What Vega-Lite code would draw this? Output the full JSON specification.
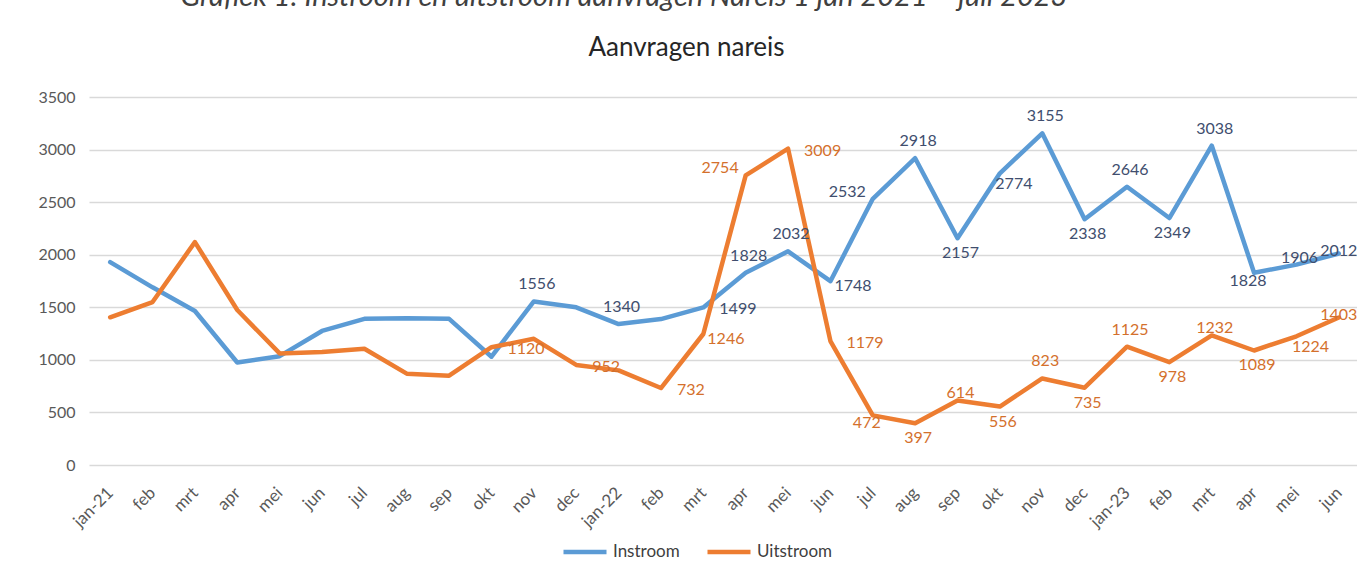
{
  "$schema": "https://vega.github.io/schema/vega-lite/v6.json",
  "background": "white",
  "padding": {"left": 37, "top": -17, "right": 0, "bottom": 0},
  "config": {"font": "Lato", "view": {"stroke": null}},
  "title": {"text": "Grafiek 1: Instroom en uitstroom aanvragen Nareis 1 jan 2021 – juli 2023", "font": "Lato", "fontStyle": "italic", "fontWeight": "normal", "fontSize": 29, "color": "#404040", "anchor": "middle", "baseline": "alphabetic", "dx": -75, "offset": 0},
  "data": {"values": [
    {"maand": "jan-21", "serie": "Instroom", "waarde": 1930},
    {"maand": "feb-21", "serie": "Instroom", "waarde": 1690},
    {"maand": "mrt-21", "serie": "Instroom", "waarde": 1465},
    {"maand": "apr-21", "serie": "Instroom", "waarde": 975},
    {"maand": "mei-21", "serie": "Instroom", "waarde": 1035},
    {"maand": "jun-21", "serie": "Instroom", "waarde": 1275},
    {"maand": "jul-21", "serie": "Instroom", "waarde": 1390},
    {"maand": "aug-21", "serie": "Instroom", "waarde": 1395},
    {"maand": "sep-21", "serie": "Instroom", "waarde": 1390},
    {"maand": "okt-21", "serie": "Instroom", "waarde": 1030},
    {"maand": "nov-21", "serie": "Instroom", "waarde": 1556},
    {"maand": "dec-21", "serie": "Instroom", "waarde": 1500},
    {"maand": "jan-22", "serie": "Instroom", "waarde": 1340},
    {"maand": "feb-22", "serie": "Instroom", "waarde": 1388},
    {"maand": "mrt-22", "serie": "Instroom", "waarde": 1499},
    {"maand": "apr-22", "serie": "Instroom", "waarde": 1828},
    {"maand": "mei-22", "serie": "Instroom", "waarde": 2032},
    {"maand": "jun-22", "serie": "Instroom", "waarde": 1748},
    {"maand": "jul-22", "serie": "Instroom", "waarde": 2532},
    {"maand": "aug-22", "serie": "Instroom", "waarde": 2918},
    {"maand": "sep-22", "serie": "Instroom", "waarde": 2157},
    {"maand": "okt-22", "serie": "Instroom", "waarde": 2774},
    {"maand": "nov-22", "serie": "Instroom", "waarde": 3155},
    {"maand": "dec-22", "serie": "Instroom", "waarde": 2338},
    {"maand": "jan-23", "serie": "Instroom", "waarde": 2646},
    {"maand": "feb-23", "serie": "Instroom", "waarde": 2349},
    {"maand": "mrt-23", "serie": "Instroom", "waarde": 3038},
    {"maand": "apr-23", "serie": "Instroom", "waarde": 1828},
    {"maand": "mei-23", "serie": "Instroom", "waarde": 1906},
    {"maand": "jun-23", "serie": "Instroom", "waarde": 2012},
    {"maand": "jan-21", "serie": "Uitstroom", "waarde": 1405},
    {"maand": "feb-21", "serie": "Uitstroom", "waarde": 1550},
    {"maand": "mrt-21", "serie": "Uitstroom", "waarde": 2120},
    {"maand": "apr-21", "serie": "Uitstroom", "waarde": 1474},
    {"maand": "mei-21", "serie": "Uitstroom", "waarde": 1061},
    {"maand": "jun-21", "serie": "Uitstroom", "waarde": 1075},
    {"maand": "jul-21", "serie": "Uitstroom", "waarde": 1106},
    {"maand": "aug-21", "serie": "Uitstroom", "waarde": 869},
    {"maand": "sep-21", "serie": "Uitstroom", "waarde": 849},
    {"maand": "okt-21", "serie": "Uitstroom", "waarde": 1120},
    {"maand": "nov-21", "serie": "Uitstroom", "waarde": 1200},
    {"maand": "dec-21", "serie": "Uitstroom", "waarde": 952},
    {"maand": "jan-22", "serie": "Uitstroom", "waarde": 900},
    {"maand": "feb-22", "serie": "Uitstroom", "waarde": 732},
    {"maand": "mrt-22", "serie": "Uitstroom", "waarde": 1246},
    {"maand": "apr-22", "serie": "Uitstroom", "waarde": 2754},
    {"maand": "mei-22", "serie": "Uitstroom", "waarde": 3009},
    {"maand": "jun-22", "serie": "Uitstroom", "waarde": 1179},
    {"maand": "jul-22", "serie": "Uitstroom", "waarde": 472},
    {"maand": "aug-22", "serie": "Uitstroom", "waarde": 397},
    {"maand": "sep-22", "serie": "Uitstroom", "waarde": 614},
    {"maand": "okt-22", "serie": "Uitstroom", "waarde": 556},
    {"maand": "nov-22", "serie": "Uitstroom", "waarde": 823},
    {"maand": "dec-22", "serie": "Uitstroom", "waarde": 735},
    {"maand": "jan-23", "serie": "Uitstroom", "waarde": 1125},
    {"maand": "feb-23", "serie": "Uitstroom", "waarde": 978},
    {"maand": "mrt-23", "serie": "Uitstroom", "waarde": 1232},
    {"maand": "apr-23", "serie": "Uitstroom", "waarde": 1089},
    {"maand": "mei-23", "serie": "Uitstroom", "waarde": 1224},
    {"maand": "jun-23", "serie": "Uitstroom", "waarde": 1403}
  ]},
  "vconcat": [
    {
      "width": 1271,
      "height": 368,
      "title": {"text": "Aanvragen nareis", "fontSize": 26, "fontWeight": "normal", "color": "#262626", "anchor": "middle", "baseline": "alphabetic", "dx": -38, "offset": 7},
      "transform": [{"calculate": "datum.serie + ' ' + datum.maand", "as": "sleutel"}],
      "encoding": {
        "x": {"field": "maand", "type": "ordinal", "sort": null, "scale": {"type": "point", "padding": 0.5},
          "axis": {"title": null, "domain": false, "ticks": false, "grid": false, "labelAngle": -45, "labelAlign": "right", "labelBaseline": "middle", "labelPadding": 25, "labelFontSize": 17, "labelColor": "#595959",
            "labelExpr": "substring(datum.value, 0, 3) == 'jan' ? datum.value : substring(datum.value, 0, 3)"}},
        "y": {"field": "waarde", "type": "quantitative", "scale": {"domain": [0, 3500], "nice": false},
          "axis": {"title": null, "values": [0, 500, 1000, 1500, 2000, 2500, 3000, 3500], "format": "d", "domain": false, "ticks": false, "gridColor": "#D9D9D9", "gridWidth": 1.5, "labelPadding": 14, "labelFontSize": 16, "labelColor": "#595959"}}
      },
      "layer": [
        {
          "mark": {"type": "line", "strokeWidth": 4.5, "strokeJoin": "round", "strokeCap": "round"},
          "encoding": {
            "color": {"field": "serie", "type": "nominal", "scale": {"domain": ["Instroom", "Uitstroom"], "range": ["#5B9BD5", "#ED7D31"]},
              "legend": {"title": null, "orient": "none", "legendX": 472, "legendY": 431, "direction": "horizontal", "symbolType": "stroke", "symbolSize": 1850, "symbolStrokeWidth": 4.5, "labelFontSize": 17, "labelColor": "#404040", "labelOffset": 4, "columnPadding": 18}}
          }
        },
        {
          "transform": [{"filter": {"field": "sleutel", "oneOf": ["Instroom nov-21", "Instroom jan-22", "Instroom apr-22", "Instroom mei-22", "Instroom aug-22", "Instroom nov-22", "Instroom jan-23", "Instroom mrt-23", "Uitstroom nov-22", "Uitstroom jan-23"]}}],
          "mark": {"type": "text", "fontSize": 16, "align": "center", "baseline": "middle", "dx": 3, "dy": -17},
          "encoding": {"text": {"field": "waarde", "type": "quantitative", "format": "d"},
            "fill": {"field": "serie", "type": "nominal", "scale": {"domain": ["Instroom", "Uitstroom"], "range": ["#404E6E", "#D4702C"]}, "legend": null}}
        },
        {
          "transform": [{"filter": {"field": "sleutel", "oneOf": ["Uitstroom sep-22", "Uitstroom mrt-23", "Instroom mei-23"]}}],
          "mark": {"type": "text", "fontSize": 16, "align": "center", "baseline": "middle", "dx": 3, "dy": -7},
          "encoding": {"text": {"field": "waarde", "type": "quantitative", "format": "d"},
            "fill": {"field": "serie", "type": "nominal", "scale": {"domain": ["Instroom", "Uitstroom"], "range": ["#404E6E", "#D4702C"]}, "legend": null}}
        },
        {
          "transform": [{"filter": {"field": "sleutel", "oneOf": ["Instroom sep-22", "Instroom dec-22", "Instroom feb-23", "Uitstroom aug-22", "Uitstroom okt-22", "Uitstroom feb-23", "Uitstroom apr-23", "Uitstroom dec-22"]}}],
          "mark": {"type": "text", "fontSize": 16, "align": "center", "baseline": "middle", "dx": 3, "dy": 15},
          "encoding": {"text": {"field": "waarde", "type": "quantitative", "format": "d"},
            "fill": {"field": "serie", "type": "nominal", "scale": {"domain": ["Instroom", "Uitstroom"], "range": ["#404E6E", "#D4702C"]}, "legend": null}}
        },
        {
          "transform": [{"filter": {"field": "sleutel", "oneOf": ["Instroom okt-22", "Uitstroom mei-23"]}}],
          "mark": {"type": "text", "fontSize": 16, "align": "center", "baseline": "middle", "dx": 14, "dy": 11},
          "encoding": {"text": {"field": "waarde", "type": "quantitative", "format": "d"},
            "fill": {"field": "serie", "type": "nominal", "scale": {"domain": ["Instroom", "Uitstroom"], "range": ["#404E6E", "#D4702C"]}, "legend": null}}
        },
        {
          "transform": [{"filter": {"field": "sleutel", "oneOf": ["Instroom apr-23", "Uitstroom jul-22"]}}],
          "mark": {"type": "text", "fontSize": 16, "align": "center", "baseline": "middle", "dx": -6, "dy": 8},
          "encoding": {"text": {"field": "waarde", "type": "quantitative", "format": "d"},
            "fill": {"field": "serie", "type": "nominal", "scale": {"domain": ["Instroom", "Uitstroom"], "range": ["#404E6E", "#D4702C"]}, "legend": null}}
        },
        {
          "transform": [{"filter": {"field": "sleutel", "oneOf": ["Instroom mrt-22", "Uitstroom okt-21", "Uitstroom dec-21", "Uitstroom feb-22", "Uitstroom mei-22", "Uitstroom jun-22"]}}],
          "mark": {"type": "text", "fontSize": 16, "align": "left", "baseline": "middle", "dx": 16, "dy": 2},
          "encoding": {"text": {"field": "waarde", "type": "quantitative", "format": "d"},
            "fill": {"field": "serie", "type": "nominal", "scale": {"domain": ["Instroom", "Uitstroom"], "range": ["#404E6E", "#D4702C"]}, "legend": null}}
        },
        {
          "transform": [{"filter": {"field": "sleutel", "oneOf": ["Uitstroom mrt-22", "Instroom jun-22"]}}],
          "mark": {"type": "text", "fontSize": 16, "align": "left", "baseline": "middle", "dx": 4, "dy": 5},
          "encoding": {"text": {"field": "waarde", "type": "quantitative", "format": "d"},
            "fill": {"field": "serie", "type": "nominal", "scale": {"domain": ["Instroom", "Uitstroom"], "range": ["#404E6E", "#D4702C"]}, "legend": null}}
        },
        {
          "transform": [{"filter": {"field": "sleutel", "oneOf": ["Instroom jul-22", "Uitstroom apr-22"]}}],
          "mark": {"type": "text", "fontSize": 16, "align": "right", "baseline": "middle", "dx": -7, "dy": -7},
          "encoding": {"text": {"field": "waarde", "type": "quantitative", "format": "d"},
            "fill": {"field": "serie", "type": "nominal", "scale": {"domain": ["Instroom", "Uitstroom"], "range": ["#404E6E", "#D4702C"]}, "legend": null}}
        },
        {
          "transform": [{"filter": {"field": "sleutel", "oneOf": ["Instroom jun-23", "Uitstroom jun-23"]}}],
          "mark": {"type": "text", "fontSize": 16, "align": "center", "baseline": "middle", "dx": 0, "dy": -2},
          "encoding": {"text": {"field": "waarde", "type": "quantitative", "format": "d"},
            "fill": {"field": "serie", "type": "nominal", "scale": {"domain": ["Instroom", "Uitstroom"], "range": ["#404E6E", "#D4702C"]}, "legend": null}}
        }
      ]
    }
  ]
}
